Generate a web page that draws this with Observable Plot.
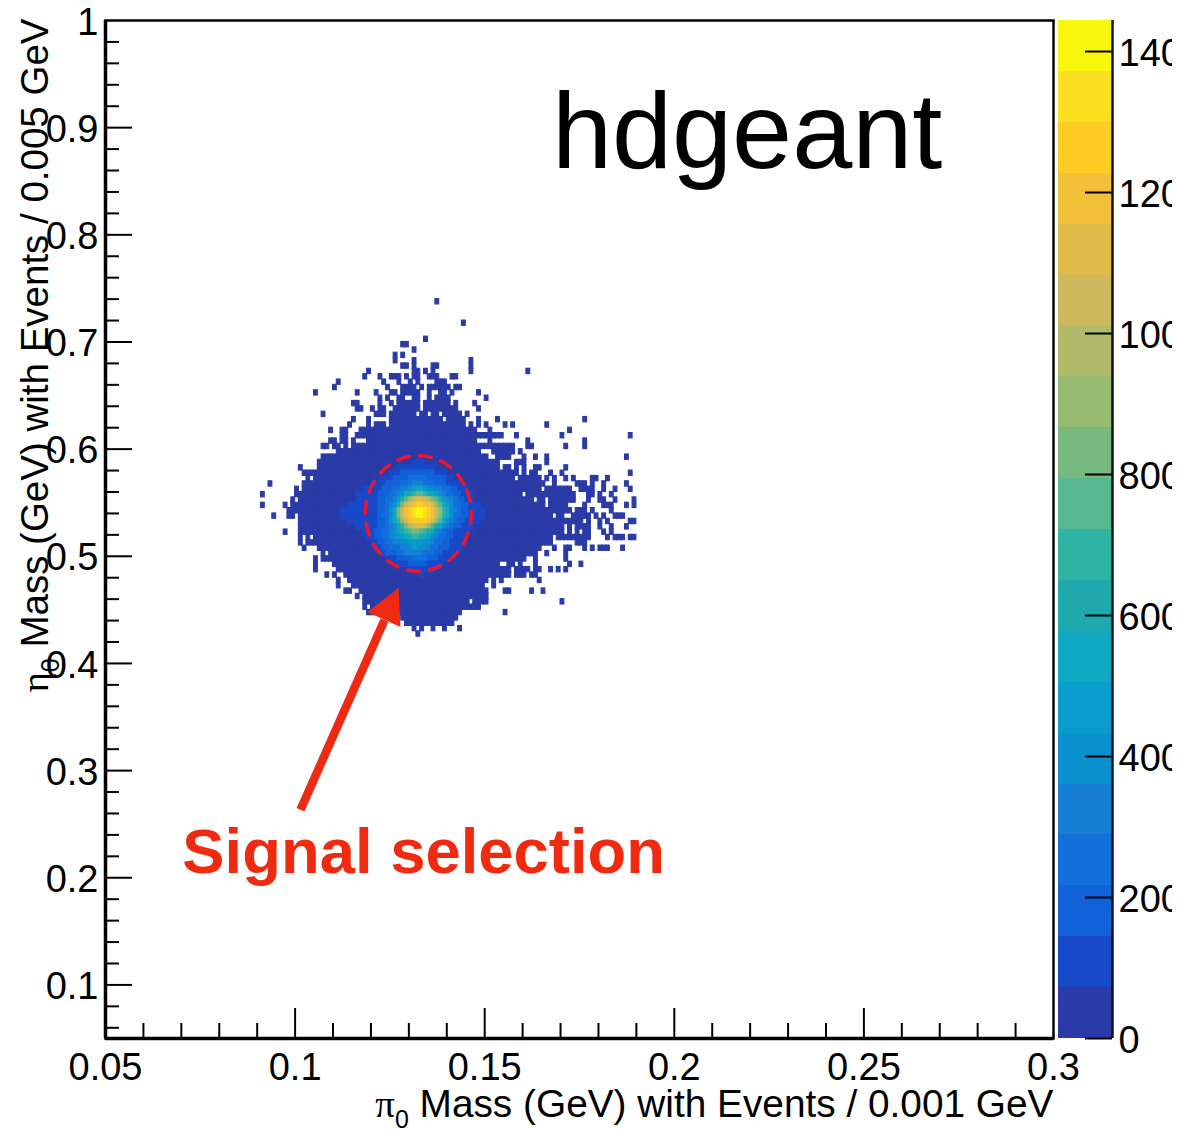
<!DOCTYPE html>
<html>
<head>
<meta charset="utf-8">
<script src="https://cdn.jsdelivr.net/npm/d3@7"></script>
<script src="https://cdn.jsdelivr.net/npm/@observablehq/plot@0.6"></script>
<style>
html,body{margin:0;padding:0;background:#fff}
#chart{position:relative;width:1172px;height:1129px;overflow:hidden}
#chart svg{display:block;overflow:hidden !important}
#chart svg.bar{position:absolute;left:1058px;top:0}
</style>
</head>
<body>
<div id="chart"></div>
<script>
// Palette of the colour bar, bottom band first
const palette = ["#2a3ba7","#1749c8","#1162d8","#1270dc","#1580d4","#0a90cc","#0a9ccc","#0ea8c3","#1fa9ad","#2fb4a4",
  "#55b88f","#78b981","#98bb72","#b1ba69","#cdb85e","#e0bb4a","#f3c03a","#fdcc25","#fae021","#f8f80e"];
const zMax = 1444;
const barTicks = [0,200,400,600,800,1000,1200,1400];

// Histogram bins: x from 0.09 in steps of 0.001, y downward from 0.74 in steps of 0.005
const xOrigin = 0.09, xBin = 0.001, yOrigin = 0.74, yBin = 0.005;

// Occupied bins of the lowest colour band, one string per y row, listing x bin numbers
const occupiedRows = [
"47","","","","54","","","44","38-39","41","36 38","36 41 56","38-39 41 46-47 56","29 41-42 44 46 56 71",
"28 32 35-37 39 41-42 45-47 51-52","21 33 37 40 42 47-49","20 34 38-41 43 45-50 52-53",
"15 26 31 35-36 38-42 45 48-49 51 58","32 34 37-38 41-42 45 47-50 60","25-26 32 35 37-42 44-50 52 57",
"26-27 30 32-33 36-42 44-52 58","17 31-33 35-41 43-44 46-47 49-53 55","25 29 35-48 50-54 58 63 86",
"24 29 31-33 35-54 56 58 60 65 67 76","19 22-23 27-57 61 82","22-23 26-64 68 80 98",
"19-20 22-23 25 29-57 61 71 86","17-18 20-21 23 25-67 71-72 81 86","21-58 62-67 69",
"17-60 63-66 70 73 76 97","16-63 68-70 76","11 16-63 65-66 68 70 73-74 81","12-68 70 72-73 77 80 98",
"13 15-67 69-74 76 78 81 83 88-89 92","3 12-75 78 84-86 88 91 97","10 12-74 76-82 85-88 91 94 98",
"1 10-69 71-83 87-88 90 93","9 11-72 74-75 77-83 87 90-91 94 99","1 7 9-75 77-81 86 91-93 97 99",
"8-82 84-86 88 93","4 8-9 11-77 79-80 83-87 89 91 94-96","11-85 87 90 92 98-99","11-80 82 84-87 90 93 97",
"7 11-80 82 84 86-87 91 93","11 13 15-77 79-87 92 94-96 98-99","11 13-77 84-86",
"12 16-74 78 81-82 86 88 90-92 96","17 19-73 76 81","15 17-70 73 81","15 20-63 66-67 69 73 82 85",
"15 21-66 68-71 73-74 77 79 81","18 20 23-66 68-70 72-73","21 24-60 62 64 74","21 25-59 62",
"23-24 27-60 65-66 72 75","26 28-60","28-55 57-60 80","28 30-58","29-53 65","38-52","39-51","41 43 46 49 53","42"
];

// Core of the peak: [y row, first x bin, colour band of each bin]
const coreRows = [
[30,41,[1,1,1]],
[31,37,[1,1,1,1,1,1,1,1,1,1]],
[32,35,[1,1,1,2,2,2,2,2,2,2,2,2,1,1,1]],
[33,33,[1,1,1,2,2,2,2,3,3,3,3,3,2,2,2,2,2,1,1]],
[34,30,[1,1,1,1,2,2,2,2,3,3,3,4,4,4,3,3,3,2,2,2,1,1,1,1]],
[35,28,[1,1,1,1,1,2,2,2,3,3,4,4,5,6,7,7,6,5,5,4,4,3,3,2,2,1,1,1]],
[36,26,[1,1,1,1,1,1,2,2,2,3,3,4,5,7,8,9,10,10,9,8,7,6,5,4,3,3,2,2,1,1,1]],
[37,26,[1,1,1,1,1,1,2,2,3,3,4,6,8,10,12,14,15,15,14,13,11,10,8,6,5,4,3,2,2,1,1]],
[38,24,[1,1,1,1,1,1,1,1,2,2,3,4,5,8,11,14,15,16,17,17,16,16,15,12,10,8,6,5,3,3,2,2,1,1,1]],
[39,22,[1,1,1,1,1,1,1,1,1,1,2,2,3,5,7,11,14,16,17,18,19,19,18,17,16,14,12,9,7,5,4,3,2,2,1,1,1,1]],
[40,22,[1,1,1,1,1,1,1,1,1,1,2,3,3,5,7,11,14,16,17,18,19,19,18,17,16,14,12,9,7,5,3,3,2,2,1,1,1,1]],
[41,24,[1,1,1,1,1,1,1,1,2,2,3,5,7,9,12,14,16,17,17,17,17,16,15,12,10,7,5,4,3,2,2,1,1,1,1]],
[42,26,[1,1,1,1,1,1,2,2,3,4,5,7,9,11,13,14,15,15,14,12,10,8,7,5,4,3,2,2,1,1,1]],
[43,28,[1,1,1,2,2,3,3,4,5,7,8,9,10,11,11,10,9,8,7,5,4,3,2,2,1,1,1,1]],
[44,29,[1,1,2,2,3,3,4,5,6,6,7,8,9,9,8,7,6,5,4,3,3,2,2,1,1,1]],
[45,30,[1,1,2,2,3,3,4,4,5,5,6,6,6,6,5,5,4,3,3,2,2,1,1,1]],
[46,31,[1,1,2,2,3,3,3,4,4,5,6,6,5,5,4,3,3,2,2,2,1,1,1]],
[47,33,[1,2,2,2,3,3,4,4,4,4,4,3,3,3,2,2,1,1,1]],
[48,35,[1,1,2,2,2,2,3,3,3,3,2,2,2,1,1,1]],
[49,37,[1,1,1,2,2,2,2,2,1,1,1,1]],
[50,40,[1,1,1,1,1,1,1]],
[51,43,[1]]
];

// Dashed signal selection, points read around the ellipse
const selectionX = [0.1465,0.1446,0.1395,0.1325,0.1255,0.1204,0.1185,0.1204,0.1255,0.1325,0.1395,0.1446];
const selectionY = [0.540,0.567,0.5868,0.594,0.5868,0.567,0.540,0.513,0.4932,0.486,0.4932,0.513];

// Annotation arrow
const shaftX = [0.10142,0.12358], shaftY = [0.2634,0.4406];
const headX = [0.12727,0.1191,0.1278], headY = [0.4704,0.4480,0.4340];

// Axis ticks
const xMajor = [0.05,0.1,0.15,0.2,0.25,0.3];
const xMinor = [0.06,0.07,0.08,0.09,0.11,0.12,0.13,0.14,0.16,0.17,0.18,0.19,0.21,0.22,0.23,0.24,0.26,0.27,0.28,0.29];
const yLabels = [0.1,0.2,0.3,0.4,0.5,0.6,0.7,0.8,0.9,1];
const yMinor = [0.06,0.08,0.12,0.14,0.16,0.18,0.22,0.24,0.26,0.28,0.32,0.34,0.36,0.38,0.42,0.44,0.46,0.48,0.52,0.54,0.56,0.58,0.62,0.64,0.66,0.68,0.72,0.74,0.76,0.78,0.82,0.84,0.86,0.88,0.92,0.94,0.96,0.98];

const bandWidth = zMax / palette.length;
const cell = (c, n, count) => ({x1: xOrigin + c*xBin, x2: xOrigin + (c+1)*xBin, y2: yOrigin - n*yBin, y1: yOrigin - (n+1)*yBin, count});
const cells = [];
occupiedRows.forEach((row, n) => {
  row.split(" ").filter(Boolean).forEach(run => {
    const [a, b = a] = run.split("-").map(Number);
    for (let c = a; c <= b; c++) cells.push(cell(c, n, bandWidth/2));
  });
});
coreRows.forEach(([n, start, bands]) => bands.forEach((b, i) => cells.push(cell(start+i, n, (b+0.5)*bandWidth))));

const bandEdges = palette.slice(1).map((_, i) => (i+1)*bandWidth);
const bands = palette.map((_, i) => ({y1: i*bandWidth, y2: (i+1)*bandWidth, count: (i+0.5)*bandWidth}));
const black = "#000", red = "#f02a10";
const font = "'Liberation Sans', Arial, Helvetica, sans-serif";

const main = Plot.plot({
  width: 1172, height: 1129,
  marginLeft: 105, marginRight: 119, marginTop: 20, marginBottom: 91,
  style: {fontFamily: font, background: "#fff", color: black},
  x: {domain: [0.05,0.3], axis: null},
  y: {domain: [0.05,1], axis: null},
  color: {type: "threshold", domain: bandEdges, range: palette},
  marks: [
    Plot.rect(cells, {x1:"x1", x2:"x2", y1:"y1", y2:"y2", fill:"count", stroke:"count", strokeWidth:1.1}),
    Plot.line(d3.range(selectionX.length), {x:i=>selectionX[i], y:i=>selectionY[i], curve:"catmull-rom-closed", stroke:"#ee1530", strokeWidth:3.5, strokeDasharray:"12 10"}),
    Plot.line(d3.range(2), {x:i=>shaftX[i], y:i=>shaftY[i], stroke:red, strokeWidth:8.5, strokeLinecap:"butt"}),
    Plot.line(d3.range(3), {x:i=>headX[i], y:i=>headY[i], fill:red, stroke:"none"}),
    Plot.text(["hdgeant"], {x:()=>0.2192, y:()=>0.8625, fontSize:108, fill:black, lineAnchor:"bottom", textAnchor:"middle"}),
    Plot.text(["Signal selection"], {x:()=>0.1339, y:()=>0.2045, fontSize:63.4, fontWeight:"bold", fill:red, lineAnchor:"bottom", textAnchor:"middle"}),
    Plot.frame({stroke:black, strokeWidth:2.5}),
    Plot.ruleX([0.05], {stroke:black, strokeWidth:3.5}),
    Plot.ruleY([0.05], {stroke:black, strokeWidth:3.5}),
    Plot.tickX(xMajor.slice(1,-1), {x:d=>d, insetTop:988, stroke:black, strokeWidth:2}),
    Plot.tickX(xMinor, {x:d=>d, insetTop:1003, stroke:black, strokeWidth:2}),
    Plot.tickY(yLabels.slice(0,-1), {y:d=>d, insetRight:921, stroke:black, strokeWidth:2}),
    Plot.tickY(yMinor, {y:d=>d, insetRight:934, stroke:black, strokeWidth:2}),
    Plot.axisX(xMajor, {anchor:"bottom", tickSize:0, tickPadding:15, fontSize:38, label:null, tickFormat:d=>String(d)}),
    Plot.axisY(yLabels, {anchor:"left", tickSize:0, tickPadding:7, dy:2, fontSize:38, label:null, tickFormat:d=>String(d)}),
    Plot.text(["xlabel"], {frameAnchor:"bottom-right", dy:78, fontSize:38.8, textAnchor:"end", lineAnchor:"bottom", className:"xlabel", text:()=>"π0 Mass (GeV) with Events / 0.001 GeV"}),
    Plot.text(["ylabel"], {frameAnchor:"top-left", dx:-58, dy:-2, rotate:-90, fontSize:38.5, textAnchor:"end", lineAnchor:"bottom", className:"ylabel", text:()=>"η0 Mass (GeV) with Events / 0.005 GeV"})
  ]
});

// Greek letter in a serif face, with a subscript, kept as one real text element
function subscript(selector, greek, rest) {
  const t = d3.select(main).select(selector + " text");
  t.text(null);
  t.append("tspan").attr("font-family", "'Liberation Serif', 'DejaVu Serif', serif").text(greek);
  t.append("tspan").attr("font-size", 25).attr("dy", 11).text("0");
  t.append("tspan").attr("dy", -11).text(" " + rest);
}
subscript(".xlabel", "π", "Mass (GeV) with Events / 0.001 GeV");
subscript(".ylabel", "η", "Mass (GeV) with Events / 0.005 GeV");

const bar = Plot.plot({
  width: 114, height: 1129,
  marginLeft: 0, marginRight: 60, marginTop: 20, marginBottom: 91,
  className: "bar",
  style: {fontFamily: font, background: "transparent", color: black},
  x: {domain: [0,1], axis: null},
  y: {domain: [0,zMax], axis: null},
  color: {type: "threshold", domain: bandEdges, range: palette},
  marks: [
    Plot.rect(bands, {x1:()=>0, x2:()=>1, y1:"y1", y2:"y2", fill:"count", shapeRendering:"crispEdges"}),
    Plot.ruleX([1], {stroke:"#111", strokeWidth:2.5}),
    Plot.ruleY(barTicks, {y:d=>d, x1:()=>0.5, x2:()=>1, stroke:black, strokeWidth:2}),
    Plot.axisY(barTicks, {anchor:"right", tickSize:0, tickPadding:6, dy:2, fontSize:38, label:null, tickFormat:d=>String(d)})
  ]
});
bar.classList.add("bar");
const chart = document.getElementById("chart");
chart.append(main, bar);
</script>
</body>
</html>
